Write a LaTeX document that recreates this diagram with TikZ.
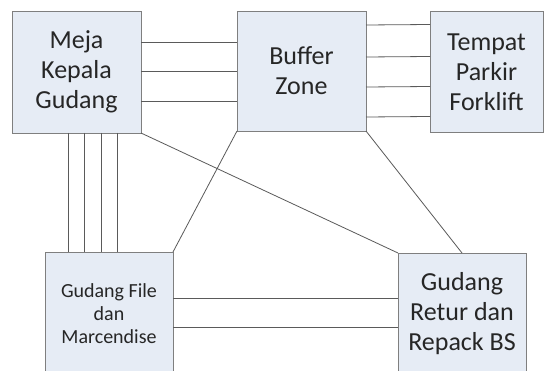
\documentclass[tikz,border=0pt]{standalone}
\usepackage{fontspec}
\setmainfont{Carlito}
\definecolor{boxfill}{HTML}{E6ECF5}
\definecolor{boxline}{HTML}{7F7F7F}
\definecolor{linkline}{HTML}{5A5A5A}
\begin{document}
\begin{tikzpicture}[x=1pt,y=-1pt,
  roombox/.style={draw=boxline, fill=boxfill, line width=0.9pt, inner sep=0pt, outer sep=0pt,
     align=center, font=\fontsize{26}{30}\selectfont, text=black!85},
  link/.style={draw=linkline, line width=0.8pt}]
\useasboundingbox (0,0) rectangle (547,371);
\clip (0,0) rectangle (547,371);
\fill[white] (0,0) rectangle (547,371);
\node[roombox, minimum width=129pt, minimum height=122pt] (meja) at (76.5,72) {Meja\\Kepala\\Gudang};
\node[roombox, minimum width=129pt, minimum height=120pt] (buffer) at (301.5,71) {Buffer\\Zone};
\node[roombox, minimum width=113pt, minimum height=121pt] (tempat) at (486.5,72) {Tempat\\Parkir\\Forklift};
\node[roombox, minimum width=128pt, minimum height=123pt, font=\fontsize{20}{23}\selectfont] (gf) at (109,313.5) {Gudang File\\dan\\Marcendise};
\node[roombox, minimum width=128pt, minimum height=122pt] (retur) at (462,314) {Gudang\\Retur dan\\Repack BS};
% Meja - Buffer
\foreach \d in {31,60,90}
  \draw[link] ([yshift=-\d pt]meja.north east) -- ([yshift=-\d pt]buffer.north west);
% Buffer - Tempat
\draw[link] ([yshift=-14pt]buffer.north east) -- ([yshift=-13pt]tempat.north west);
\draw[link] ([yshift=-46pt]buffer.north east) -- ([yshift=-45pt]tempat.north west);
\draw[link] ([yshift=-76pt]buffer.north east) -- ([yshift=-75pt]tempat.north west);
\draw[link] ([yshift=-106pt]buffer.north east) -- ([yshift=-105pt]tempat.north west);
% Meja - GF vertical
\draw[link] ([xshift=56pt]meja.south west) -- ([xshift=23pt]gf.north west);
\draw[link] ([xshift=72pt]meja.south west) -- ([xshift=39pt]gf.north west);
\draw[link] ([xshift=89pt]meja.south west) -- ([xshift=56pt]gf.north west);
\draw[link] ([xshift=105pt]meja.south west) -- ([xshift=72pt]gf.north west);
% GF - Retur
\draw[link] ([yshift=-46pt]gf.north east) -- ([yshift=-45pt]retur.north west);
\draw[link] ([yshift=-75pt]gf.north east) -- ([yshift=-74pt]retur.north west);
% diagonals
\draw[link] (meja.south east) -- (retur.north west);
\draw[link] (buffer.south west) -- (gf.north east);
\draw[link] (buffer.south east) -- (retur.north);
\end{tikzpicture}
\end{document}
